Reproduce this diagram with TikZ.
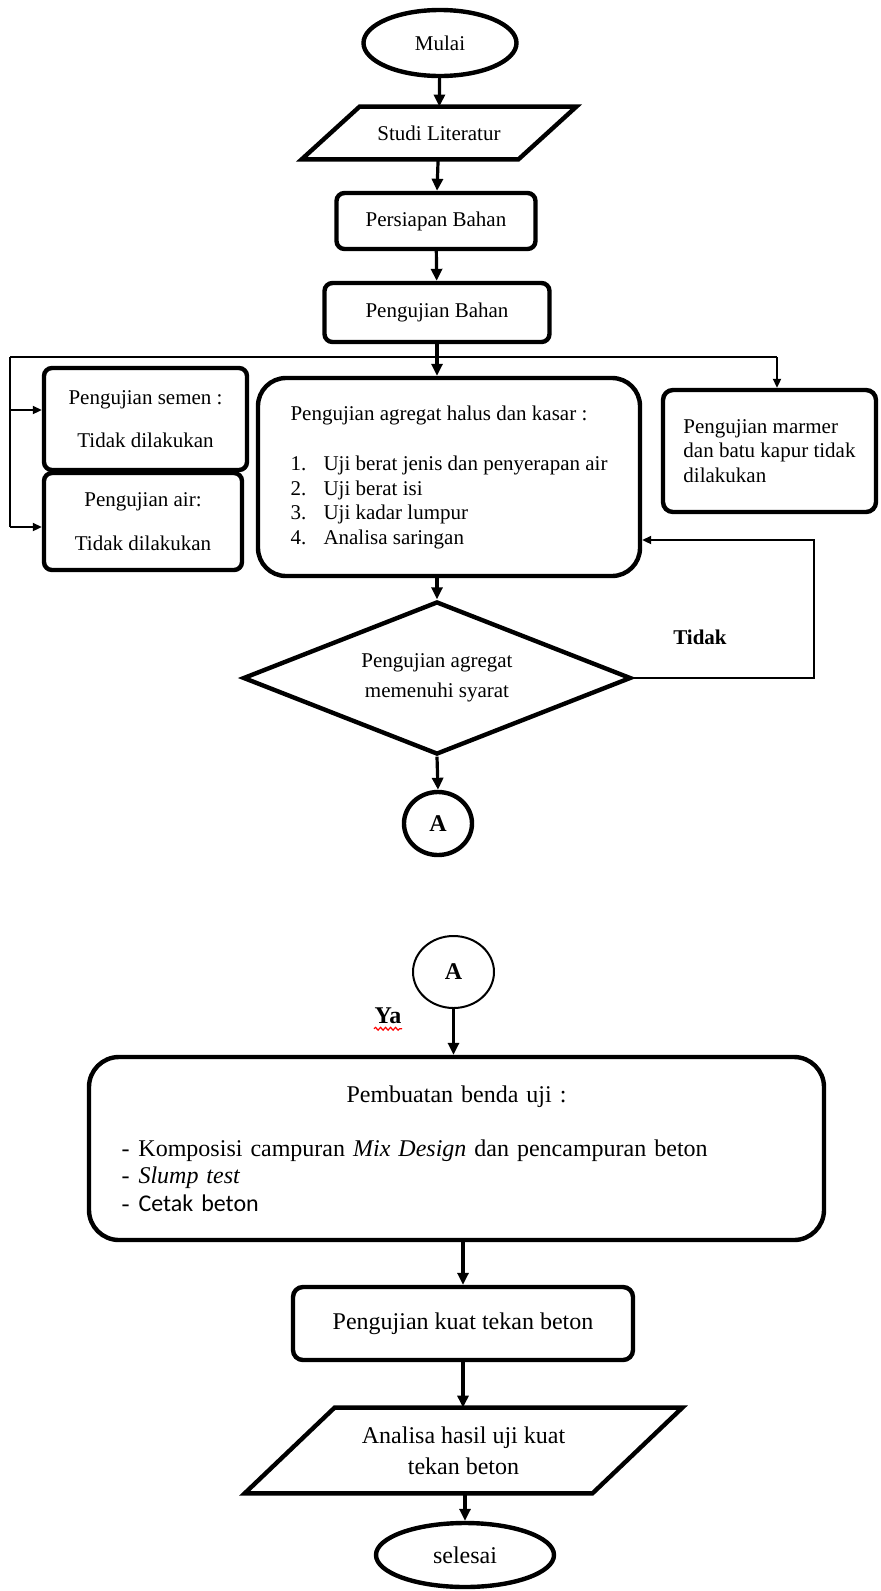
\documentclass[tikz,border=0pt]{standalone}
\usepackage{fontspec}
\setmainfont{Liberation Serif}
\newfontfamily\calibri{Carlito}
\usetikzlibrary{positioning,calc,arrows.meta,shapes.geometric,decorations.pathmorphing}
\newcommand\topfont{\fontsize{10.5}{12.25}\selectfont}
\newcommand\lowfont{\fontsize{12}{13.75}\selectfont}
\newcommand\numitem[1]{\makebox[16.5pt][l]{#1}}
\newcommand\dashitem{\makebox[8.5pt][l]{-}}
% slanted frame round a text node: #1 node, #2 half of the slant
\newcommand\ioframe[2]{\draw[thickline] ([xshift=-#2]#1.south west) -- ([xshift=#2]#1.north west)
  -- ([xshift=#2]#1.north east) -- ([xshift=-#2]#1.south east) -- cycle;}
\tikzset{
  thickline/.style={draw, line width=2.2pt},
  box/.style={thickline, rectangle, rounded corners=4pt, align=center},
  bigbox/.style={thickline, rectangle, rounded corners=15pt},
  term/.style={thickline, ellipse, inner sep=0pt},
  io/.style={rectangle, align=center, inner sep=0pt},
  cond/.style={thickline, diamond, aspect=2.5, align=center, inner sep=0pt},
  conn/.style={draw, ellipse, inner sep=0pt, font=\lowfont\bfseries},
  arr/.style={line width=1.6pt, -{Triangle[length=6pt,width=5.5pt]}},
  arrthin/.style={line width=1pt, -{Triangle[length=4.5pt,width=4pt]}},
  bus/.style={line width=1.2pt},
  squiggle/.style={red, line width=0.6pt, decorate, decoration={snake, amplitude=0.7pt, segment length=2.5pt}}
}
\begin{document}
\begin{tikzpicture}[x=0.5pt, y=-0.5pt, every node/.style={font=\topfont}]
\useasboundingbox (0,0) rectangle (881,1591);
% upper part
\node[term, minimum width=76.5pt, minimum height=33pt] (start) at (440,43) {Mulai};
\node[io, minimum width=108pt, minimum height=26pt] (lit) at (439,133) {Studi Literatur};
\ioframe{lit}{14.5pt}
\node[box, minimum width=99.5pt, minimum height=28pt] (prep) at (436,221) {Persiapan Bahan};
\node[box, minimum width=112.5pt, minimum height=29.5pt] (test) at (437,312.5) {Pengujian Bahan};
\node[box, minimum width=101.5pt, minimum height=51pt] (semen) at (145.5,419)
     {Pengujian semen :\\[9pt]Tidak dilakukan};
\node[box, minimum width=99pt, minimum height=48.5pt] (air) at (143,521.5)
     {Pengujian air:\\[10pt]Tidak dilakukan};
\node[bigbox, rounded corners=14pt, minimum width=191pt, minimum height=99pt,
      align=left] (agg) at (449,477)
     {Pengujian agregat halus dan kasar :\\[13pt]
      \numitem{1.}Uji berat jenis dan penyerapan air\\
      \numitem{2.}Uji berat isi\\
      \numitem{3.}Uji kadar lumpur\\
      \numitem{4.}Analisa saringan};
\node[box, rounded corners=5pt, minimum width=106.5pt, minimum height=61pt, align=left] (marmer)
     at (769.5,451) {Pengujian marmer\\dan batu kapur tidak\\dilakukan};
\node[cond, minimum width=194pt, minimum height=76.5pt] (dec) at (437,678)
     {Pengujian agregat\\[2.75pt]memenuhi syarat};
\node[conn, line width=2.2pt, minimum width=34pt, minimum height=31.5pt] (conA1) at (438,823.5) {A};
\node[font=\topfont\bfseries] (no) at (700,637) {Tidak};
% connectors, upper part
\draw[arr] (start) -- (lit);
\draw[arr] (lit) -- (prep);
\draw[arr] (prep) -- (test);
\draw[arr] (test.south) -- (test.south |- agg.north);
\coordinate (busL) at (10,357);
\coordinate (busR) at (777,357);
\coordinate (tapS) at (10,410);
\coordinate (tapA) at (10,527);
\draw[bus] (busL) -- (busR);
\draw[bus] (busL) -- (tapA);
\draw[arrthin] (busR) -- (busR |- marmer.north);
\draw[arrthin] (tapS) -- (tapS -| semen.west);
\draw[arrthin] (tapA) -- (tapA -| air.west);
\draw[arr] (agg.south -| dec.north) -- (dec.north);
\coordinate (loop) at (814,540);
\draw[arrthin] (dec.east) -| (loop) -- (loop -| agg.east);
\draw[arr] (dec.south) -- (conA1.north);
% lower part
\node[conn, line width=1pt, minimum width=40.5pt, minimum height=36pt] (conA2) at (453.5,972) {A};
\node[font=\lowfont\bfseries] (ya) at (388,1016) {Ya};
\draw[squiggle] ([xshift=-7pt,yshift=-2.5pt]ya.base) -- ([xshift=7pt,yshift=-2.5pt]ya.base);
\node[bigbox, font=\lowfont, minimum width=367.5pt, minimum height=91.5pt,
      text width=335pt, align=left] (make) at (456.5,1148.5)
     {\makebox[335pt][c]{Pembuatan benda uji :}\\[13.25pt]
      \dashitem Komposisi campuran \emph{Mix Design} dan pencampuran beton\\
      \dashitem\emph{Slump test}\\
      \dashitem{\calibri Cetak beton}};
\node[box, font=\lowfont, rounded corners=5pt, minimum width=170pt, minimum height=36.5pt] (kuat)
     at (463,1323.5) {Pengujian kuat tekan beton};
\node[io, font=\lowfont, minimum width=173.5pt, minimum height=42.5pt] (hasil) at (463.5,1450.5)
     {Analisa hasil uji kuat\\[1.75pt]tekan beton};
\ioframe{hasil}{22.5pt}
\node[term, font=\lowfont, minimum width=89pt, minimum height=32pt] (stop) at (465,1555) {selesai};
% connectors, lower part
\draw[arr] (conA2.south) -- (conA2.south |- make.north);
\draw[arr] (make.south -| kuat.north) -- (kuat.north);
\draw[arr] (kuat.south) -- (kuat.south |- hasil.north);
\draw[arr] (hasil.south -| stop.north) -- (stop.north);
\end{tikzpicture}
\end{document}
